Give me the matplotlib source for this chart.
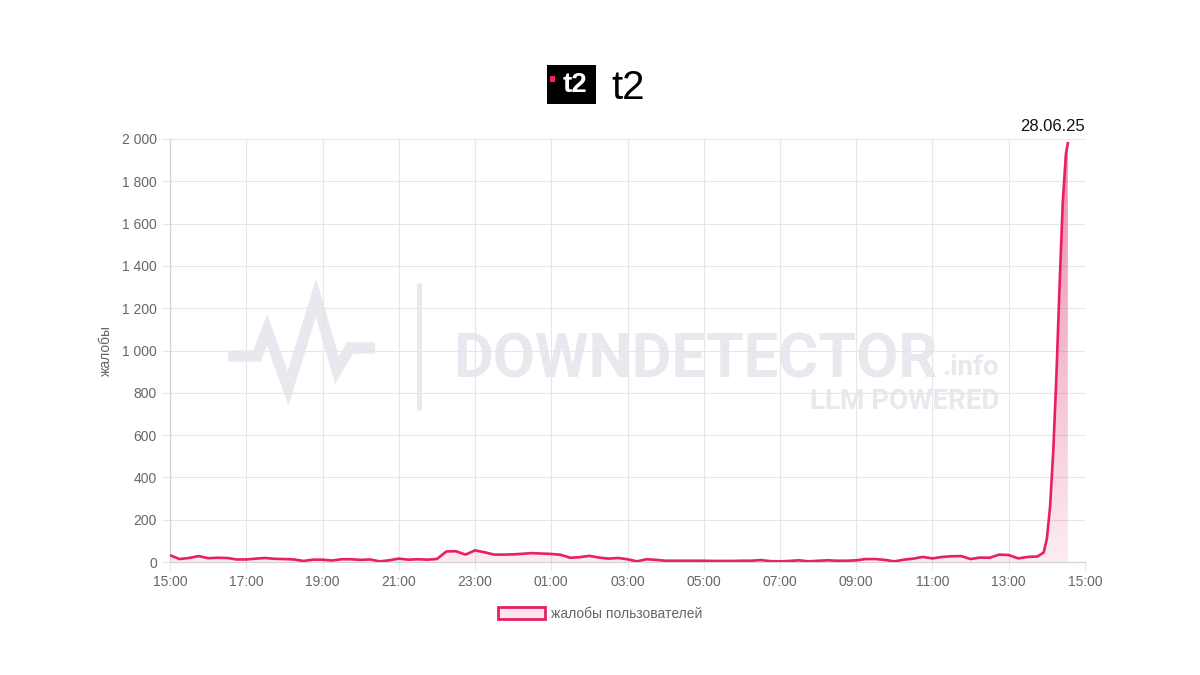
import numpy as np
import pandas as pd
import matplotlib
matplotlib.use('Agg')
import matplotlib.pyplot as plt
import matplotlib.dates as mdates
from matplotlib.colors import to_rgb
from matplotlib.patches import Patch, Rectangle
from matplotlib.lines import Line2D
from matplotlib.ticker import FuncFormatter, MultipleLocator

plt.rcParams['font.family'] = ['Liberation Sans', 'DejaVu Sans']

# complaints every 15 minutes, 27.06 15:00 .. 28.06 13:45
base_start = '2025-06-27 15:00'
base_values = [
    32, 14, 19, 28, 18, 20, 19, 12, 12, 16, 19, 15,
    14, 12, 5, 11, 11, 7, 13, 13, 10, 12, 3, 8,
    16, 11, 13, 11, 14, 50, 51, 35, 55, 46, 35, 35,
    36, 39, 42, 40, 38, 34, 20, 23, 29, 21, 16, 19,
    13, 3, 13, 10, 6, 6, 6, 6, 6, 5, 5, 5,
    6, 6, 9, 4, 3, 5, 8, 3, 6, 8, 6, 6,
    8, 14, 14, 10, 3, 11, 16, 24, 17, 24, 27, 28,
    14, 21, 20, 35, 33, 17, 24, 26,
]
# the outage spike at the end
spike_times = ['2025-06-28 13:55', '2025-06-28 14:00', '2025-06-28 14:05',
               '2025-06-28 14:10', '2025-06-28 14:15', '2025-06-28 14:20',
               '2025-06-28 14:25', '2025-06-28 14:30', '2025-06-28 14:33']
spike_values = [45, 110, 260, 520, 880, 1310, 1700, 1930, 1980]

series_label = 'жалобы пользователей'
y_label = 'жалобы'
date_label = '28.06.25'
service_name = 't2'

line_color = '#e91e63'
grid_color = '#e6e6e6'
text_color = '#666666'
wm_color = '#e8e9ee'

times = list(pd.date_range(base_start, periods=len(base_values), freq='15min'))
times += list(pd.to_datetime(spike_times))
values = np.array(base_values + spike_values, dtype=float)
x = mdates.date2num(times)

fig = plt.figure(figsize=(12, 6.75), dpi=100)
ax = fig.add_axes([170 / 1200, 1 - 562 / 675, 915 / 1200, 423 / 675])
ax.set_facecolor('none')

x0 = mdates.date2num(pd.Timestamp('2025-06-27 15:00'))
x1 = mdates.date2num(pd.Timestamp('2025-06-28 15:00'))

# gradient fill under the line
poly = ax.fill_between(x, values, 0, color='none', lw=0)
grad = np.linspace(0.1, 0.62, 256)[:, None]
rgba = np.zeros((256, 1, 4))
rgba[..., :3] = to_rgb('#e0407e')
rgba[..., 3] = grad
img = ax.imshow(rgba, aspect='auto', extent=[x0, x1, 0, 2000], origin='lower', zorder=2)
img.set_clip_path(poly.get_paths()[0], transform=ax.transData)

ax.plot(x, values, color=line_color, lw=1.9, zorder=3, solid_joinstyle='round')

ax.set_xlim(x0, x1)
ax.set_ylim(0, 2000)
ax.xaxis.set_major_locator(mdates.HourLocator(byhour=range(1, 24, 2)))
ax.xaxis.set_major_formatter(mdates.DateFormatter('%H:%M'))
ax.yaxis.set_major_locator(MultipleLocator(200))
ax.yaxis.set_major_formatter(FuncFormatter(lambda v, p: f'{int(v):,}'.replace(',', ' ')))

ax.grid(True, color=grid_color, lw=0.8, zorder=1)
ax.set_axisbelow(True)
for s in ['top', 'right']:
    ax.spines[s].set_visible(False)
for s in ['left', 'bottom']:
    ax.spines[s].set_color('#d4d4d4')
    ax.spines[s].set_linewidth(0.9)
ax.tick_params(length=6, color=grid_color, width=0.8, labelsize=10, labelcolor=text_color, pad=3.5)
ax.set_ylabel(y_label, color=text_color, fontsize=10, labelpad=6)

ax.text(1.0, 1.012, date_label, transform=ax.transAxes, ha='right', va='bottom',
        fontsize=12, color='#111111')

# title with logo
fig.patches.append(Rectangle((547 / 1200, 1 - 104 / 675), 49 / 1200, 39 / 675,
                             transform=fig.transFigure, facecolor='black', edgecolor='none'))
fig.patches.append(Rectangle((550 / 1200, 1 - 82 / 675), 5 / 1200, 6 / 675,
                             transform=fig.transFigure, facecolor='#ff1a7a', edgecolor='none'))
fig.text(575 / 1200, 1 - 85 / 675, service_name, ha='center', va='center', color='white',
         fontsize=20, fontweight='bold')
fig.text(611 / 1200, 1 - 99 / 675, service_name, ha='left', va='baseline', color='black',
         fontsize=29)

# watermark
pulse_x = [228, 257, 267, 288, 316, 337, 350, 375]
pulse_y = [356, 356, 330, 388, 298, 370, 348, 348]
fig.add_artist(Line2D([p / 1200 for p in pulse_x], [1 - p / 675 for p in pulse_y],
                      transform=fig.transFigure, color=wm_color, lw=8, zorder=-1,
                      solid_joinstyle='miter', solid_capstyle='butt'))
fig.add_artist(Line2D([419 / 1200, 419 / 1200], [1 - 283 / 675, 1 - 410 / 675],
                      transform=fig.transFigure, color=wm_color, lw=3.5, zorder=-1,
                      solid_capstyle='butt'))
fig.text(453 / 1200, 1 - 377 / 675, 'DOWNDETECTOR', ha='left', va='baseline', color=wm_color,
         fontsize=44, fontweight='bold', family='Roboto', zorder=-1)
fig.text(942 / 1200, 1 - 375 / 675, '.info', ha='left', va='baseline', color=wm_color,
         fontsize=20, fontweight='bold', family='Roboto', zorder=-1)
fig.text(999 / 1200, 1 - 409 / 675, 'LLM POWERED', ha='right', va='baseline', color=wm_color,
         fontsize=20, fontweight='bold', family='Roboto', zorder=-1)

handle = Patch(facecolor='#fde6ee', edgecolor=line_color, lw=2)
fig.legend(handles=[handle], labels=[series_label], loc='center', bbox_to_anchor=(0.5, 1 - 614 / 675),
           frameon=False, handlelength=3.4, handleheight=1.0, handletextpad=0.4,
           fontsize=10, labelcolor=text_color)

fig.savefig('out.png', dpi=100, facecolor='white')
